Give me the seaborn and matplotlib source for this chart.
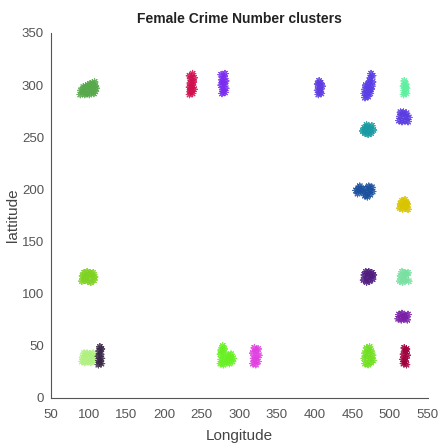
import matplotlib
matplotlib.use("Agg")
import matplotlib.pyplot as plt
import seaborn as sns
import pandas as pd

# Crime locations grouped into clusters (longitude, latitude)
cluster_01 = [(89, 291), (92, 293), (95, 291), (98, 292), (101, 291), (104, 293), (107, 292), (109, 294),
              (90, 295), (94, 296), (97, 295), (100, 297), (103, 296), (106, 298), (109, 299), (96, 299),
              (99, 300), (102, 301), (105, 302), (108, 303), (93, 298), (110, 297)]
cluster_02 = [(234, 291), (238, 292), (236, 295), (240, 296), (234, 298), (238, 300), (235, 302),
              (239, 303), (236, 306), (240, 307), (234, 309), (238, 311), (237, 297), (235, 294)]
cluster_03 = [(277, 292), (281, 293), (278, 296), (282, 297), (276, 300), (280, 301), (282, 304),
              (277, 305), (280, 308), (276, 310), (281, 311), (279, 294), (278, 303)]
cluster_04 = [(405, 291), (409, 292), (404, 295), (408, 296), (406, 298), (410, 299), (404, 301),
              (408, 302), (406, 304), (407, 293)]
cluster_05 = [(467, 288), (471, 289), (466, 292), (470, 293), (474, 292), (467, 296), (471, 297),
              (475, 296), (468, 300), (472, 301), (476, 299), (473, 304), (477, 303), (474, 307),
              (477, 309), (475, 311), (469, 290), (473, 295)]
cluster_06 = [(518, 291), (522, 292), (519, 295), (522, 297), (518, 299), (521, 301), (519, 304),
              (520, 293), (521, 298)]
cluster_07 = [(512, 266), (516, 265), (520, 266), (524, 265), (513, 270), (517, 271), (521, 270),
              (525, 269), (514, 274), (518, 274), (522, 273)]
cluster_08 = [(464, 256), (467, 254), (471, 253), (475, 254), (478, 257), (466, 259), (470, 260),
              (474, 259), (468, 257), (472, 256), (476, 261), (469, 262)]
cluster_09 = [(455, 199), (458, 201), (461, 198), (457, 196), (460, 203), (463, 200), (467, 194),
              (470, 197), (474, 195), (477, 198), (468, 201), (472, 203), (476, 202), (470, 193),
              (465, 197), (473, 199)]
cluster_10 = [(513, 182), (517, 181), (521, 183), (524, 181), (514, 186), (518, 185), (522, 187),
              (516, 189), (520, 190), (523, 186)]
cluster_11 = [(91, 112), (95, 113), (99, 112), (103, 111), (107, 113), (92, 117), (96, 116),
              (100, 118), (104, 117), (108, 116), (94, 120), (98, 121), (102, 120), (106, 120)]
cluster_12 = [(465, 113), (469, 111), (473, 112), (477, 114), (466, 118), (470, 116), (474, 117),
              (478, 118), (468, 121), (472, 121), (476, 120)]
cluster_13 = [(513, 112), (517, 111), (521, 113), (525, 112), (514, 117), (518, 116), (522, 118),
              (524, 120), (516, 121), (520, 120)]
cluster_14 = [(511, 76), (515, 75), (519, 76), (523, 75), (512, 80), (516, 81), (520, 79),
              (524, 80), (518, 78)]
cluster_15 = [(91, 35), (95, 34), (99, 35), (103, 34), (107, 36), (92, 39), (96, 40), (100, 38),
              (104, 40), (108, 39), (94, 43), (98, 43), (102, 42), (106, 43)]
cluster_16 = [(113, 32), (117, 33), (114, 36), (117, 38), (113, 40), (116, 42), (114, 45),
              (117, 47), (115, 49), (115, 35)]
cluster_17 = [(275, 33), (279, 32), (283, 34), (287, 33), (291, 35), (276, 37), (280, 38),
              (284, 37), (288, 39), (292, 38), (275, 42), (279, 43), (285, 41), (289, 42),
              (276, 46), (280, 47), (278, 50)]
cluster_18 = [(318, 33), (322, 32), (325, 35), (319, 38), (323, 39), (326, 41), (318, 43),
              (322, 45), (325, 47), (320, 48), (321, 36)]
cluster_19 = [(467, 33), (471, 32), (475, 34), (478, 36), (466, 38), (470, 39), (474, 38),
              (477, 41), (467, 43), (471, 44), (475, 45), (469, 48), (473, 49)]
cluster_20 = [(518, 33), (522, 32), (517, 37), (521, 38), (523, 41), (518, 42), (521, 45),
              (519, 48), (522, 47), (520, 35)]

clusters = [cluster_01, cluster_02, cluster_03, cluster_04, cluster_05, cluster_06, cluster_07,
            cluster_08, cluster_09, cluster_10, cluster_11, cluster_12, cluster_13, cluster_14,
            cluster_15, cluster_16, cluster_17, cluster_18, cluster_19, cluster_20]

cluster_colors = ["#58a84c", "#d0104f", "#7a2cf0", "#5e3ce2", "#5a3ee6", "#5ef0a0", "#5a3ce0",
                  "#1a9aa2", "#1a509e", "#d8c400", "#7ed222", "#501c80", "#78e0a0", "#7a20a8",
                  "#b0f080", "#3a2848", "#66f020", "#e040e0", "#70e020", "#a0003c"]

x_ticks = [50, 100, 150, 200, 250, 300, 350, 400, 450, 500, 550]
y_ticks = [0, 50, 100, 150, 200, 250, 300, 350]

rows = []
for k, pts in enumerate(clusters):
    for lon, lat in pts:
        rows.append({"Longitude": lon, "lattitude": lat, "cluster": k})
df = pd.DataFrame(rows)

sns.set_style("white")
plt.rcParams["font.family"] = ["Liberation Sans", "DejaVu Sans"]

fig = plt.figure(figsize=(4.39, 4.43), dpi=100)
ax = fig.add_axes([0.116, 0.1016, 0.858, 0.824])

sns.scatterplot(data=df, x="Longitude", y="lattitude", hue="cluster",
                palette=cluster_colors, marker=(8, 2, 0), s=22, linewidth=0.8,
                legend=False, ax=ax, alpha=0.85)

ax.set_xlim(50, 550)
ax.set_ylim(0, 350)
ax.set_xticks(x_ticks)
ax.set_yticks(y_ticks)
ax.tick_params(direction="in", length=3, width=0.7, colors="#555555", labelsize=9.5)
ax.tick_params(axis="x", pad=8)
ax.tick_params(axis="y", pad=5)
for side in ("top", "right"):
    ax.spines[side].set_visible(False)
for side in ("left", "bottom"):
    ax.spines[side].set_color("#555555")
    ax.spines[side].set_linewidth(0.8)

ax.set_xlabel("Longitude", fontsize=11, color="#444444", labelpad=6)
ax.set_ylabel("lattitude", fontsize=11, color="#444444", labelpad=1)
ax.set_title("Female Crime Number clusters", fontsize=10, fontweight="bold",
             color="#222222", pad=7)

fig.savefig("out.png", dpi=100)
